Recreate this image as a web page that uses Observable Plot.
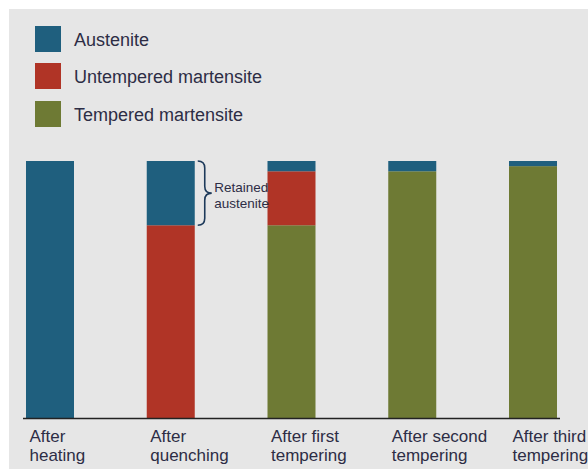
<!DOCTYPE html>
<html>
<head>
<meta charset="utf-8">
<script src="https://cdn.jsdelivr.net/npm/d3@7"></script>
<script src="https://cdn.jsdelivr.net/npm/@observablehq/plot@0.6"></script>
<style>
  html, body { margin: 0; padding: 0; background: #ffffff; overflow: hidden; width: 588px; height: 469px; }
  #frame { position: absolute; left: 9px; top: 9px; width: 579px; height: 460px; background: #e6e6e6; }
  .legend-item { position: absolute; left: 35px; height: 26px; display: flex; align-items: center; }
  .legend-item .sw { width: 26px; height: 26px; margin-right: 13px; flex: none; }
  .legend-item .lb { font-family: "Liberation Sans", Arial, sans-serif; font-size: 18px; color: #2d2d45; line-height: 26px; padding-top: 2px; white-space: nowrap; }
  #chart { position: absolute; left: 0; top: 130px; }
</style>
</head>
<body>
<div id="frame"></div>
<div id="legend"></div>
<div id="chart"></div>
<script>
// ---- data ----
const stages = ["After heating", "After quenching", "After first tempering", "After second tempering", "After third tempering"];
const stageLabels = ["After\nheating", "After\nquenching", "After first\ntempering", "After second\ntempering", "After third\ntempering"];
const phases = ["Austenite", "Untempered martensite", "Tempered martensite"];
const phaseColors = ["#1f5f7e", "#b03426", "#6e7a34"];
const austenite  = [100, 25, 4, 4, 2];
const untempered = [0, 75, 21, 0, 0];
const tempered   = [0, 0, 75, 96, 98];
const annotationStage = "After quenching";
const annotationText = "Retained\naustenite";

const textColor = "#2d2d45";

// ---- table ----
const rows = [];
stages.forEach((s, i) => {
  rows.push({stage: s, phase: "Tempered martensite", value: tempered[i]});
  rows.push({stage: s, phase: "Untempered martensite", value: untempered[i]});
  rows.push({stage: s, phase: "Austenite", value: austenite[i]});
});

// ---- legend (HTML) ----
const legend = document.getElementById("legend");
phases.forEach((p, i) => {
  const item = document.createElement("div");
  item.className = "legend-item";
  item.style.top = (26 + 37.4 * i) + "px";
  const sw = document.createElement("div");
  sw.className = "sw";
  sw.style.background = phaseColors[i];
  const lb = document.createElement("span");
  lb.className = "lb";
  lb.textContent = p;
  item.appendChild(sw);
  item.appendChild(lb);
  legend.appendChild(item);
});

// annotation range for the retained austenite
const ai = stages.indexOf(annotationStage);
const aTop = austenite[ai] + untempered[ai] + tempered[ai];
const aBot = aTop - austenite[ai];

function brace(index, scales) {
  const {x, y} = scales;
  const bw = x.bandwidth ? x.bandwidth() : 48;
  const x0 = x(annotationStage) + bw + 3;
  const w = 14, r = 7;
  const y0 = y(aTop), y1 = y(aBot), ym = (y0 + y1) / 2;
  const xm = x0 + w / 2;
  const d = `M${x0},${y0} Q${xm},${y0} ${xm},${y0 + r} L${xm},${ym - r} Q${xm},${ym} ${x0 + w},${ym} Q${xm},${ym} ${xm},${ym + r} L${xm},${y1 - r} Q${xm},${y1} ${x0},${y1}`;
  const path = document.createElementNS("http://www.w3.org/2000/svg", "path");
  path.setAttribute("d", d);
  path.setAttribute("fill", "none");
  path.setAttribute("stroke", "#1d3a5a");
  path.setAttribute("stroke-width", "1.6");
  return path;
}

const chart = Plot.plot({
  width: 588,
  height: 339,
  marginLeft: 23,
  marginRight: 28,
  marginTop: 31,
  marginBottom: 51,
  style: {background: "transparent", fontFamily: "'Liberation Sans', Arial, sans-serif", overflow: "visible", color: textColor},
  x: {domain: stages, paddingInner: 0.6025, paddingOuter: 0.0248, align: 0.5, round: false, axis: null},
  y: {domain: [0, 100], axis: null},
  color: {domain: phases, range: phaseColors},
  marks: [
    Plot.barY(rows, Plot.stackY({x: "stage", y: "value", fill: "phase", order: ["Tempered martensite", "Untempered martensite", "Austenite"]})),
    Plot.ruleY([0], {stroke: "#222222", strokeWidth: 1.5}),
    Plot.axisX({
      label: null,
      tickSize: 0,
      tickPadding: 10,
      textAnchor: "start",
      dx: -21,
      fontSize: 17,
      lineHeight: 1.12,
      fill: textColor,
      tickFormat: d => stageLabels[stages.indexOf(d)]
    }),
    brace,
    Plot.text([{stage: annotationStage, y: (aTop + aBot) / 2, text: annotationText}], {
      x: "stage", y: "y", text: "text",
      textAnchor: "start", lineAnchor: "middle",
      dx: 43, dy: 1, fontSize: 13.5, lineHeight: 1.22, fill: textColor
    })
  ]
});
document.getElementById("chart").appendChild(chart);
</script>
</body>
</html>
